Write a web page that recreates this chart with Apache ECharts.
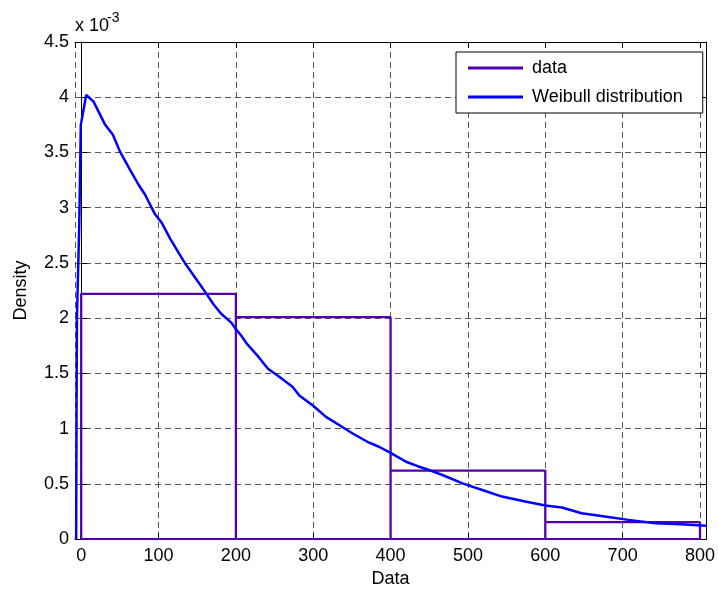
<!DOCTYPE html>
<html>
<head>
<meta charset="utf-8">
<script src="https://cdn.jsdelivr.net/npm/echarts@6/dist/echarts.min.js"></script>
<style>
  html, body { margin: 0; padding: 0; background: #fff; }
  #chart { width: 718px; height: 593px; }
</style>
</head>
<body>
<div id="chart"></div>
<script>
// Histogram bins (density, in units of 1e-3)
const binEdges = [0, 200, 400, 600, 800];
const binDensity = [2.22, 2.01, 0.62, 0.153];

// Fitted Weibull density curve (x, density in units of 1e-3)
const fitX = [-6.5, -6, -5.5, -2.5, -0.5, 6.5, 16, 31, 41, 50, 63, 74, 82.5, 95.5, 104,
  115, 127, 134, 147, 162, 170.5, 181, 194, 199, 207, 214, 228.5, 241.5, 256.5, 273.5,
  282, 299.5, 316.5, 334, 351, 370, 385, 400, 420, 435, 450, 467, 493, 518.5, 544,
  574, 600, 621.5, 647, 677, 707.5, 742, 776, 808];
const fitDensity = [0, 1.2, 2.0, 2.85, 3.75, 4.02, 3.96, 3.75, 3.66, 3.51, 3.345, 3.21, 3.12, 2.94, 2.865,
  2.72, 2.58, 2.50, 2.37, 2.22, 2.13, 2.04, 1.96, 1.91, 1.84, 1.77, 1.656, 1.542, 1.467, 1.377,
  1.30, 1.21, 1.106, 1.031, 0.956, 0.881, 0.836, 0.78, 0.70, 0.66, 0.625, 0.58, 0.505, 0.445, 0.385,
  0.34, 0.304, 0.286, 0.234, 0.205, 0.174, 0.144, 0.135, 0.12];

const xTickValues = [0, 100, 200, 300, 400, 500, 600, 700, 800];
const yTickLabels = ['0', '0.5', '1', '1.5', '2', '2.5', '3', '3.5', '4', '4.5'];
const seriesNames = ['data', 'Weibull distribution'];

const FONT = '"Liberation Sans", Arial, sans-serif';
const PURPLE = '#5400aa';
const BLUE = '#0000ff';

// Outline of the histogram bars, drawn as one connected path
const histPath = [[binEdges[0], 0]];
for (let i = 0; i < binDensity.length; i++) {
  histPath.push([binEdges[i], binDensity[i]]);
  histPath.push([binEdges[i + 1], binDensity[i]]);
  histPath.push([binEdges[i + 1], 0]);
}
histPath.push([binEdges[0], 0]);

const fitPath = fitX.map((x, i) => [x, fitDensity[i]]);

const gridDash = { color: '#555', width: 1, type: [6, 4] };
const tickIn = { show: true, inside: true, length: 6, lineStyle: { color: '#000', width: 1 } };

// x range is padded slightly past the data; ticks fall on the round hundreds
const X_MIN = -8, X_MAX = 808;

const chart = echarts.init(document.getElementById('chart'), null, { renderer: 'canvas' });
chart.setOption({
  animation: false,
  backgroundColor: '#fff',
  textStyle: { fontFamily: FONT },
  grid: { left: 75, right: 10, top: 42, bottom: 52, containLabel: false },
  legend: {
    data: seriesNames,
    orient: 'vertical',
    left: 456, top: 52,
    backgroundColor: '#fff',
    borderColor: '#000', borderWidth: 1, borderRadius: 0,
    padding: [7, 20, 7, 12],
    itemGap: 11,
    itemWidth: 55, itemHeight: 3,
    icon: 'rect',
    textStyle: { fontSize: 18, color: '#000', fontFamily: FONT, padding: [0, 0, 0, 4] }
  },
  xAxis: [{
    type: 'value', min: X_MIN, max: X_MAX, splitNumber: 8,
    name: 'Data', nameLocation: 'middle', nameGap: 30,
    nameTextStyle: { fontSize: 18, color: '#000', fontFamily: FONT },
    axisLine: { show: true, lineStyle: { color: '#000', width: 1 } },
    axisTick: tickIn,
    axisLabel: {
      fontSize: 18, color: '#000', margin: 8, fontFamily: FONT,
      showMinLabel: false, showMaxLabel: false,
      formatter: v => (xTickValues.indexOf(Math.round(v)) >= 0 && Math.abs(v - Math.round(v)) < 1e-6 ? String(Math.round(v)) : '')
    },
    splitLine: { show: true, lineStyle: gridDash }
  }, {
    type: 'value', min: X_MIN, max: X_MAX, splitNumber: 8, position: 'top',
    axisLine: { show: true, onZero: false, lineStyle: { color: '#000', width: 1 } },
    axisTick: tickIn, axisLabel: { show: false }, splitLine: { show: false }
  }],
  yAxis: [{
    type: 'value', min: 0, max: 4.5, interval: 0.5,
    name: 'Density', nameLocation: 'middle', nameGap: 45,
    nameTextStyle: { fontSize: 18, color: '#000', fontFamily: FONT },
    axisLine: { show: true, lineStyle: { color: '#000', width: 1 } },
    axisTick: tickIn,
    axisLabel: {
      fontSize: 18, color: '#000', margin: 6, fontFamily: FONT,
      formatter: v => yTickLabels[Math.round(v / 0.5)] || ''
    },
    splitLine: { show: true, lineStyle: gridDash }
  }, {
    type: 'value', min: 0, max: 4.5, interval: 0.5, position: 'right',
    axisLine: { show: true, onZero: false, lineStyle: { color: '#000', width: 1 } },
    axisTick: tickIn, axisLabel: { show: false }, splitLine: { show: false }
  }],
  graphic: [
    { type: 'text', left: 75, top: 17, style: { text: 'x 10', fontSize: 18, fill: '#000', fontFamily: FONT } },
    { type: 'text', left: 107, top: 11, style: { text: '-3', fontSize: 14, fill: '#000', fontFamily: FONT } }
  ],
  series: [{
    name: seriesNames[0], type: 'line', data: histPath,
    xAxisIndex: 0, yAxisIndex: 0,
    showSymbol: false, symbol: 'none',
    lineStyle: { color: PURPLE, width: 2.3 }, itemStyle: { color: PURPLE },
    z: 3
  }, {
    name: seriesNames[1], type: 'line', data: fitPath,
    xAxisIndex: 0, yAxisIndex: 0,
    showSymbol: false, symbol: 'none',
    lineStyle: { color: BLUE, width: 2.5 }, itemStyle: { color: BLUE },
    z: 4
  }]
});
</script>
</body>
</html>
